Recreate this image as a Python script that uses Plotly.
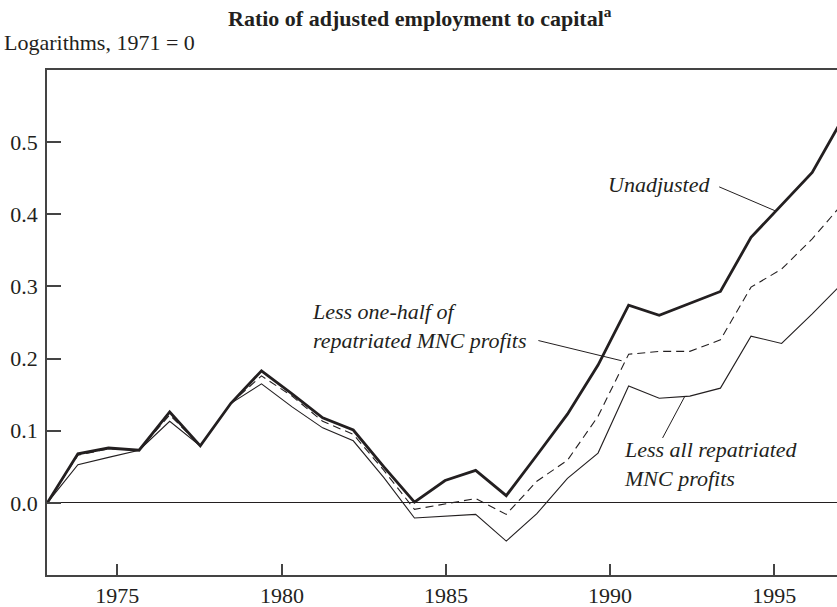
# plot.py
# Ratio of adjusted employment to capital, three variants, log scale with 1971 = 0

import plotly.graph_objects as go

# ── data ──
years = list(range(1971, 1998))

unadjusted = [0.000, 0.068, 0.076, 0.073, 0.126, 0.079, 0.138, 0.183, 0.151,
              0.118, 0.101, 0.050, 0.001, 0.031, 0.045, 0.010, 0.066, 0.123,
              0.191, 0.274, 0.260, 0.277, 0.293, 0.368, 0.413, 0.458, 0.533]

less_half = [0.000, 0.066, 0.075, 0.073, 0.122, 0.079, 0.138, 0.176, 0.148,
             0.113, 0.095, 0.045, -0.009, -0.002, 0.006, -0.016, 0.030, 0.059,
             0.120, 0.206, 0.210, 0.210, 0.226, 0.299, 0.324, 0.366, 0.415]

less_all = [0.000, 0.053, 0.063, 0.073, 0.113, 0.079, 0.138, 0.165, 0.133,
            0.104, 0.086, 0.035, -0.021, -0.018, -0.016, -0.053, -0.015, 0.034,
            0.069, 0.162, 0.145, 0.148, 0.159, 0.231, 0.221, 0.262, 0.305]

# the printed tick marks do not sit on whole data years
tick_pos = [1973.29, 1978.67, 1984.03, 1989.39, 1994.76]
tick_text = ['1975', '1980', '1985', '1990', '1995']
y_ticks = [0.0, 0.1, 0.2, 0.3, 0.4, 0.5]

INK = '#231f20'
AXIS = '#444444'
FONT = 'Liberation Serif'

fig = go.Figure()

fig.add_trace(go.Scatter(x=years, y=less_all, mode='lines',
                         line=dict(color=INK, width=1.1)))
fig.add_trace(go.Scatter(x=years, y=less_half, mode='lines',
                         line=dict(color=INK, width=1.1, dash='8px,5px')))
fig.add_trace(go.Scatter(x=years, y=unadjusted, mode='lines',
                         line=dict(color=INK, width=2.8)))

# labels with thin leader lines
labels = [
    dict(x=1992.71, y=0.441, text='<i>Unadjusted</i>', xanchor='right'),
    dict(x=1979.58, y=0.245, text='<i>Less one-half of<br>repatriated MNC profits</i>',
         xanchor='left'),
    dict(x=1989.77, y=0.054, text='<i>Less all repatriated<br>MNC profits</i>',
         xanchor='left'),
]
for lab in labels:
    fig.add_annotation(xref='x', yref='y', showarrow=False, align='left',
                       yanchor='middle', font=dict(family=FONT, size=22, color=INK),
                       **lab)

leaders = [
    (1992.96, 0.438, 1994.78, 0.405),
    (1987.05, 0.225, 1989.77, 0.197),
    (1991.11, 0.090, 1991.84, 0.148),
]
for x0, y0, x1, y1 in leaders:
    fig.add_shape(type='line', xref='x', yref='y', x0=x0, y0=y0, x1=x1, y1=y1,
                  line=dict(color=INK, width=1))

# title and unit line
fig.add_annotation(xref='paper', yref='paper', x=0.472, y=1.0,
                   xanchor='center', yanchor='middle', showarrow=False,
                   yshift=53,
                   text='<b>Ratio of adjusted employment to capital<sup>a</sup></b>',
                   font=dict(family=FONT, size=22, color=INK))
fig.add_annotation(xref='paper', yref='paper', x=0, y=1.0,
                   xanchor='left', yanchor='middle', showarrow=False,
                   xshift=-45, yshift=28,
                   text='Logarithms, 1971 = 0',
                   font=dict(family=FONT, size=22, color=INK))

fig.update_layout(
    width=837, height=607,
    margin=dict(l=47, r=0, t=70, b=32),
    plot_bgcolor='white',
    paper_bgcolor='white',
    showlegend=False,
    font=dict(family=FONT, size=22, color=INK),
    xaxis=dict(
        range=[1970.99, 1996.81],
        tickvals=tick_pos, ticktext=tick_text,
        ticks='inside', ticklen=11, tickwidth=1.5, tickcolor=AXIS,
        showline=True, linecolor=AXIS, linewidth=1.5, mirror=True,
        showgrid=False, zeroline=False,
    ),
    yaxis=dict(
        range=[-0.1, 0.6],
        tickvals=y_ticks, tickformat='.1f',
        ticks='inside', ticklen=14, tickwidth=1.5, tickcolor=AXIS,
        ticklabelstandoff=3,
        showline=True, linecolor=AXIS, linewidth=1.5,
        showgrid=False,
        zeroline=True, zerolinecolor=INK, zerolinewidth=1,
    ),
)

# page body has a default margin; drop it so the figure sits at the corner
fig.write_html("out.html", config={'displayModeBar': False},
               post_script="document.body.style.margin='0';")
